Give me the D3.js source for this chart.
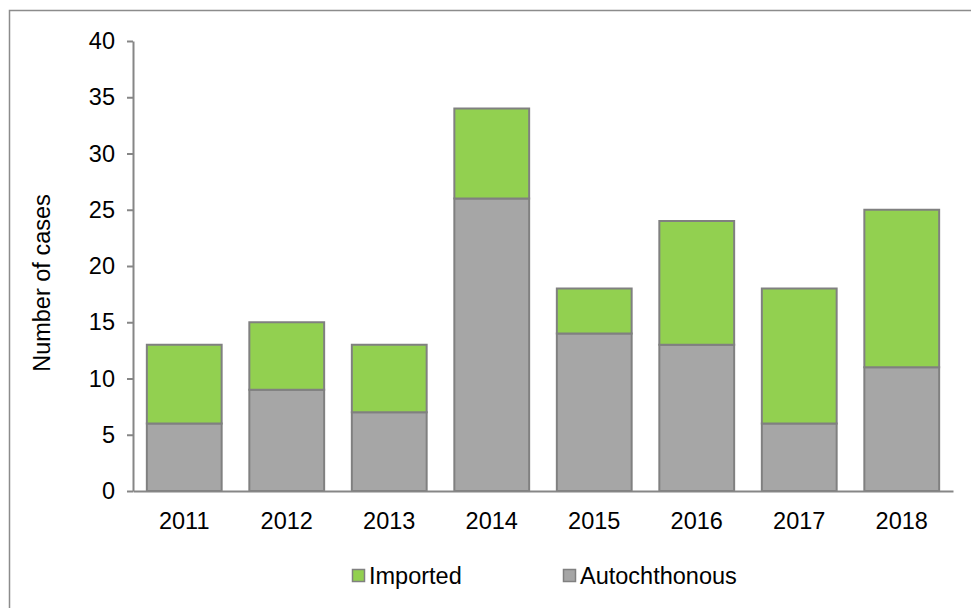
<!DOCTYPE html>
<html>
<head>
<meta charset="utf-8">
<script src="https://cdn.jsdelivr.net/npm/d3@7"></script>
<style>
  body { margin: 0; background: #fff; }
  svg text { font-family: Arial, "Liberation Sans", sans-serif; fill: #000; }
</style>
</head>
<body>
<div id="chart"></div>
<script>
// chart data
var years = ["2011", "2012", "2013", "2014", "2015", "2016", "2017", "2018"];
var autochthonous = [6, 9, 7, 26, 14, 13, 6, 11];
var imported = [7, 6, 6, 8, 4, 11, 12, 14];
var yTicks = [0, 5, 10, 15, 20, 25, 30, 35, 40];
var seriesNames = ["Imported", "Autochthonous"];

var w = 971, h = 608;
var margin = {top: 41, right: 18, bottom: 117, left: 133};
var fontSize = 23.5;

var colors = {
  Imported: "#92d050",
  Autochthonous: "#a6a6a6"
};

var svg = d3.select("#chart")
            .append("svg")
            .attr("width", w)
            .attr("height", h);

// outer frame (only top and left edges fall inside the picture)
svg.append("rect")
   .attr("x", 9.5)
   .attr("y", 10.5)
   .attr("width", w + 20)
   .attr("height", h + 20)
   .attr("fill", "none")
   .attr("stroke", "#8c8c8c")
   .attr("stroke-width", 1.5);

var table = years.map(function(y, i){
  return {year: y, Autochthonous: autochthonous[i], Imported: imported[i]};
});

var stack = d3.stack().keys(["Autochthonous", "Imported"]);
var layers = stack(table);

var x = d3.scaleBand()
          .domain(years)
          .range([margin.left, w - margin.right])
          .paddingInner(0.27)
          .paddingOuter(0.135);

var yScale = d3.scaleLinear()
               .domain([0, 40])
               .range([h - margin.bottom, margin.top]);

// bars
svg.append("g")
   .selectAll("g")
   .data(layers)
   .enter()
   .append("g")
   .attr("fill", d => colors[d.key])
   .selectAll("rect")
   .data(d => d)
   .enter()
   .append("rect")
     .attr("x", d => x(d.data.year))
     .attr("y", d => yScale(d[1]))
     .attr("width", x.bandwidth())
     .attr("height", d => yScale(d[0]) - yScale(d[1]))
     .attr("stroke", "#808080")
     .attr("stroke-width", 2);

// y axis
var yAxis = d3.axisLeft(yScale)
              .tickValues(yTicks)
              .tickSize(6)
              .tickPadding(12)
              .tickSizeOuter(0);

var yG = svg.append("g")
            .attr("transform", `translate(${margin.left},0)`)
            .call(yAxis);
yG.select(".domain").attr("stroke", "#868686").attr("stroke-width", 2);
yG.selectAll(".tick line").attr("stroke", "#868686").attr("stroke-width", 2);
yG.selectAll(".tick text").attr("font-size", fontSize);

// x axis
var xAxis = d3.axisBottom(x).tickSize(0).tickPadding(21);
var xG = svg.append("g")
            .attr("transform", `translate(0,${h - margin.bottom})`)
            .call(xAxis);
xG.select(".domain").attr("stroke", "#868686").attr("stroke-width", 2);
xG.selectAll(".tick text").attr("font-size", fontSize);

// y title
svg.append("text")
   .attr("transform", `translate(50,${(yScale(0) + yScale(40)) / 2 + 17}) rotate(-90)`)
   .attr("text-anchor", "middle")
   .attr("font-size", fontSize)
   .text("Number of cases");

// legend
var legendX = [352, 563];
var legend = svg.append("g")
                .selectAll("g")
                .data(seriesNames)
                .enter()
                .append("g")
                .attr("transform", (d, i) => `translate(${legendX[i]},569)`);

legend.append("rect")
      .attr("x", 0.5)
      .attr("y", 0.5)
      .attr("width", 12)
      .attr("height", 12)
      .attr("fill", d => colors[d])
      .attr("stroke", "#808080")
      .attr("stroke-width", 1.5);

legend.append("text")
      .attr("x", 17)
      .attr("y", 14.5)
      .attr("font-size", fontSize)
      .text(d => d);
</script>
</body>
</html>
